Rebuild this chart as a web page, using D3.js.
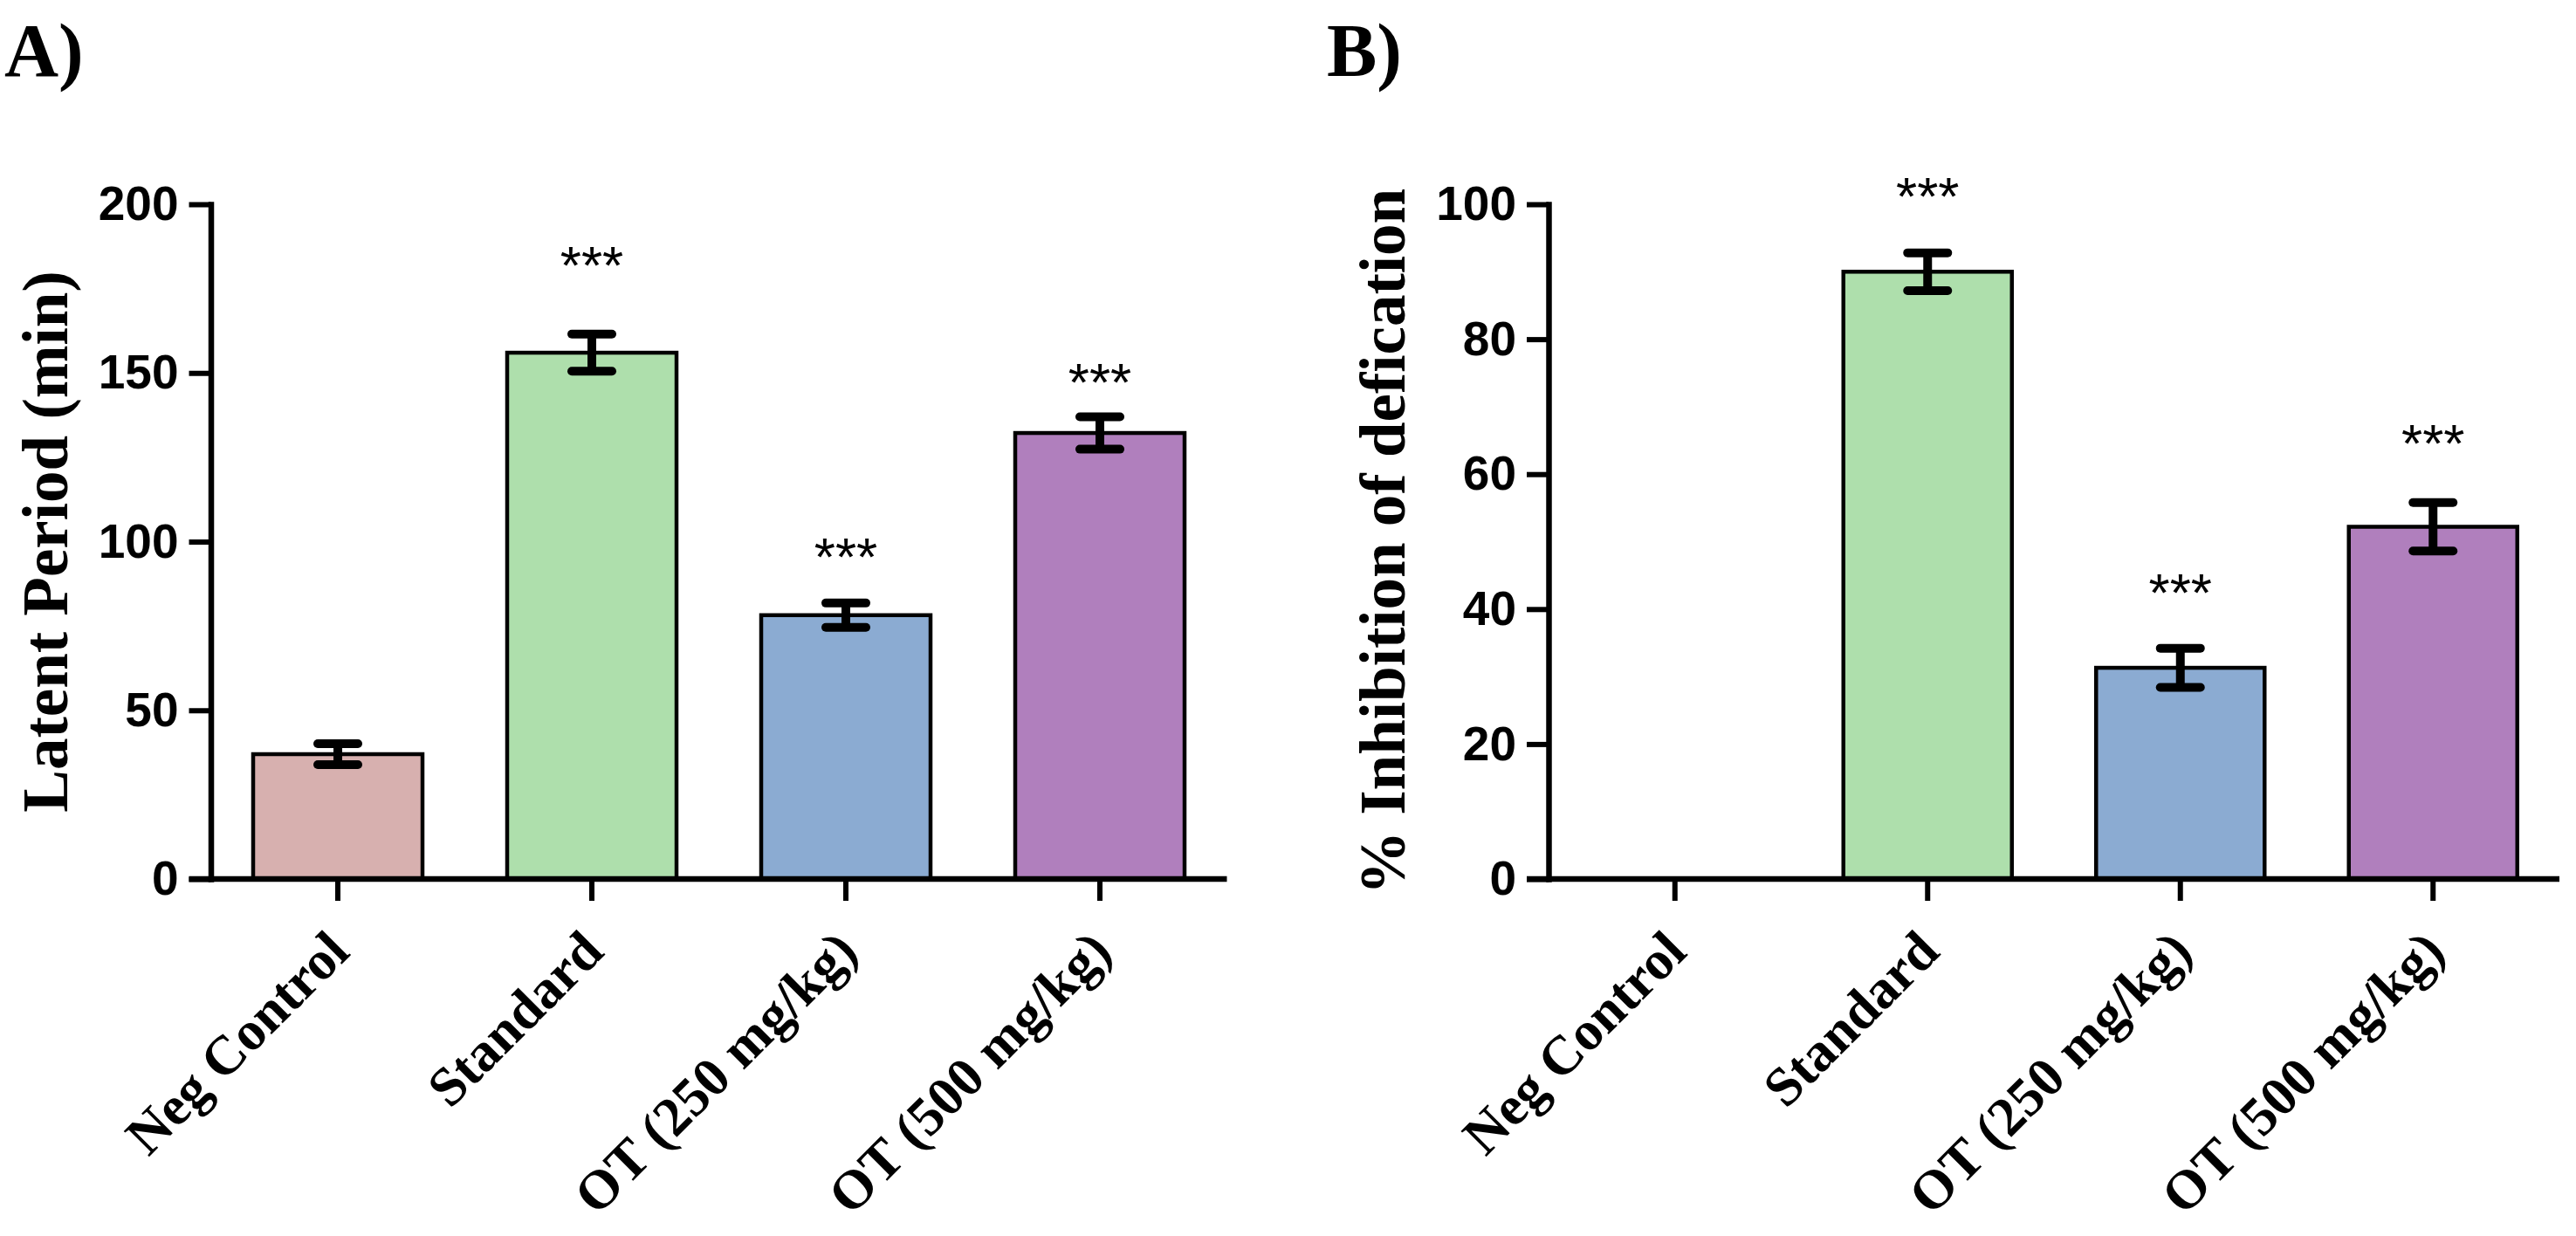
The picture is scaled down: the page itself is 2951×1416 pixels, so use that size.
<!DOCTYPE html>
<html>
<head>
<meta charset="utf-8">
<script src="https://cdn.jsdelivr.net/npm/d3@7"></script>
<style>
  html, body { margin: 0; padding: 0; background: #fff; }
  svg { display: block; }
</style>
</head>
<body>
<div id="chart"></div>
<script>
const groups = ["Neg Control", "Standard", "OT (250 mg/kg)", "OT (500 mg/kg)"];
const barColors = ["#d7b0af", "#aedfac", "#8babd2", "#b07fbd"];

// Panel A: latent period (min)
const latentMean = [37, 156, 78.2, 132.2];
const latentSem = [3.1, 5.5, 3.6, 4.8];
const latentStars = ["", "***", "***", "***"];
const latentStarLevel = [null, 185.8, 99.4, 151];
const latentTicks = [0, 50, 100, 150, 200];

// Panel B: % inhibition of defecation
const inhibMean = [0, 90, 31.3, 52.2];
const inhibSem = [0, 2.8, 2.9, 3.6];
const inhibStars = ["", "***", "***", "***"];
const inhibStarLevel = [null, 103.1, 44.4, 66.5];
const inhibTicks = [0, 20, 40, 60, 80, 100];

const W = 2951, H = 1416;
const sans = "'Liberation Sans', Arial, sans-serif";
const serif = "'Liberation Serif', 'Times New Roman', serif";

const svg = d3.select("#chart").append("svg")
  .attr("width", W)
  .attr("height", H);

function renderPanel(cfg) {
  const g = svg.append("g");
  const top = 234, bottom = 1007;

  const x = d3.scaleBand()
    .domain(groups)
    .range([cfg.left, cfg.right])
    .paddingInner(1 / 3)
    .paddingOuter(1 / 6);

  const y = d3.scaleLinear()
    .domain([0, d3.max(cfg.ticks)])
    .range([bottom, top]);

  const rows = groups.map((name, i) => ({
    name,
    mean: cfg.mean[i],
    sem: cfg.sem[i],
    star: cfg.stars[i],
    level: cfg.starLevel[i],
    color: barColors[i]
  }));

  // Bars
  g.selectAll(".bar")
    .data(rows.filter((d) => d.mean > 0))
    .join("rect")
    .attr("class", "bar")
    .attr("x", (d) => x(d.name))
    .attr("y", (d) => y(d.mean))
    .attr("width", x.bandwidth())
    .attr("height", (d) => y(0) - y(d.mean))
    .attr("fill", (d) => d.color)
    .attr("stroke", "#000")
    .attr("stroke-width", 4.5);

  // Error bars
  const err = g.selectAll(".err")
    .data(rows.filter((d) => d.sem > 0))
    .join("g")
    .attr("class", "err")
    .attr("transform", (d) => `translate(${x(d.name) + x.bandwidth() / 2},0)`);

  err.append("line")
    .attr("y1", (d) => y(d.mean - d.sem))
    .attr("y2", (d) => y(d.mean + d.sem))
    .attr("stroke", "#000")
    .attr("stroke-width", 10);

  [1, -1].forEach((sign) => {
    err.append("line")
      .attr("x1", -23)
      .attr("x2", 23)
      .attr("y1", (d) => y(d.mean + sign * d.sem))
      .attr("y2", (d) => y(d.mean + sign * d.sem))
      .attr("stroke", "#000")
      .attr("stroke-width", 10)
      .attr("stroke-linecap", "round");
  });

  // Significance stars
  g.selectAll(".star")
    .data(rows.filter((d) => d.star))
    .join("text")
    .attr("class", "star")
    .attr("x", (d) => x(d.name) + x.bandwidth() / 2)
    .attr("y", (d) => y(d.level) + 36)
    .attr("text-anchor", "middle")
    .attr("font-family", sans)
    .attr("font-size", "62px")
    .attr("fill", "#000")
    .text((d) => d.star);

  // Y axis
  g.append("g")
    .attr("transform", `translate(${cfg.left},0)`)
    .call(d3.axisLeft(y).tickValues(cfg.ticks).tickSize(25).tickSizeOuter(0).tickPadding(12))
    .call((a) => a.select(".domain").attr("stroke-width", 6.5).attr("stroke-linecap", "square"))
    .call((a) => a.selectAll(".tick line").attr("stroke-width", 6))
    .selectAll("text")
    .attr("font-family", sans)
    .attr("font-weight", "bold")
    .attr("font-size", "55px")
    .attr("fill", "#000");

  // X axis
  const xa = g.append("g")
    .attr("transform", `translate(0,${bottom})`)
    .call(d3.axisBottom(x).tickSize(25).tickSizeOuter(0))
    .call((a) => a.select(".domain").remove())
    .call((a) => a.selectAll(".tick line").attr("stroke-width", 6));

  xa.append("line")
    .attr("x1", cfg.left - 25)
    .attr("x2", cfg.right)
    .attr("stroke", "#000")
    .attr("stroke-width", 6.5);

  xa.selectAll(".tick text")
    .attr("y", 0)
    .attr("dy", 0)
    .attr("text-anchor", "end")
    .attr("transform", "translate(16,86) rotate(-45)")
    .attr("font-family", serif)
    .attr("font-weight", "bold")
    .attr("font-size", "63px")
    .attr("fill", "#000");

  // Axis title
  g.append("text")
    .attr("transform", `translate(${cfg.left - 165},${(top + bottom) / 2}) rotate(-90)`)
    .attr("text-anchor", "middle")
    .attr("font-family", serif)
    .attr("font-weight", "bold")
    .attr("font-size", "73px")
    .attr("fill", "#000")
    .text(cfg.title);

  // Panel letter
  g.append("text")
    .attr("x", cfg.letterX)
    .attr("y", 87)
    .attr("font-family", serif)
    .attr("font-weight", "bold")
    .attr("font-size", "86px")
    .attr("fill", "#000")
    .text(cfg.letter);
}

renderPanel({
  left: 241.5, right: 1405.5,
  mean: latentMean, sem: latentSem, stars: latentStars, starLevel: latentStarLevel,
  ticks: latentTicks, title: "Latent Period (min)", letter: "A)", letterX: 5
});

renderPanel({
  left: 1774, right: 2932,
  mean: inhibMean, sem: inhibSem, stars: inhibStars, starLevel: inhibStarLevel,
  ticks: inhibTicks, title: "% Inhibition of defication", letter: "B)", letterX: 1520
});
</script>
</body>
</html>
